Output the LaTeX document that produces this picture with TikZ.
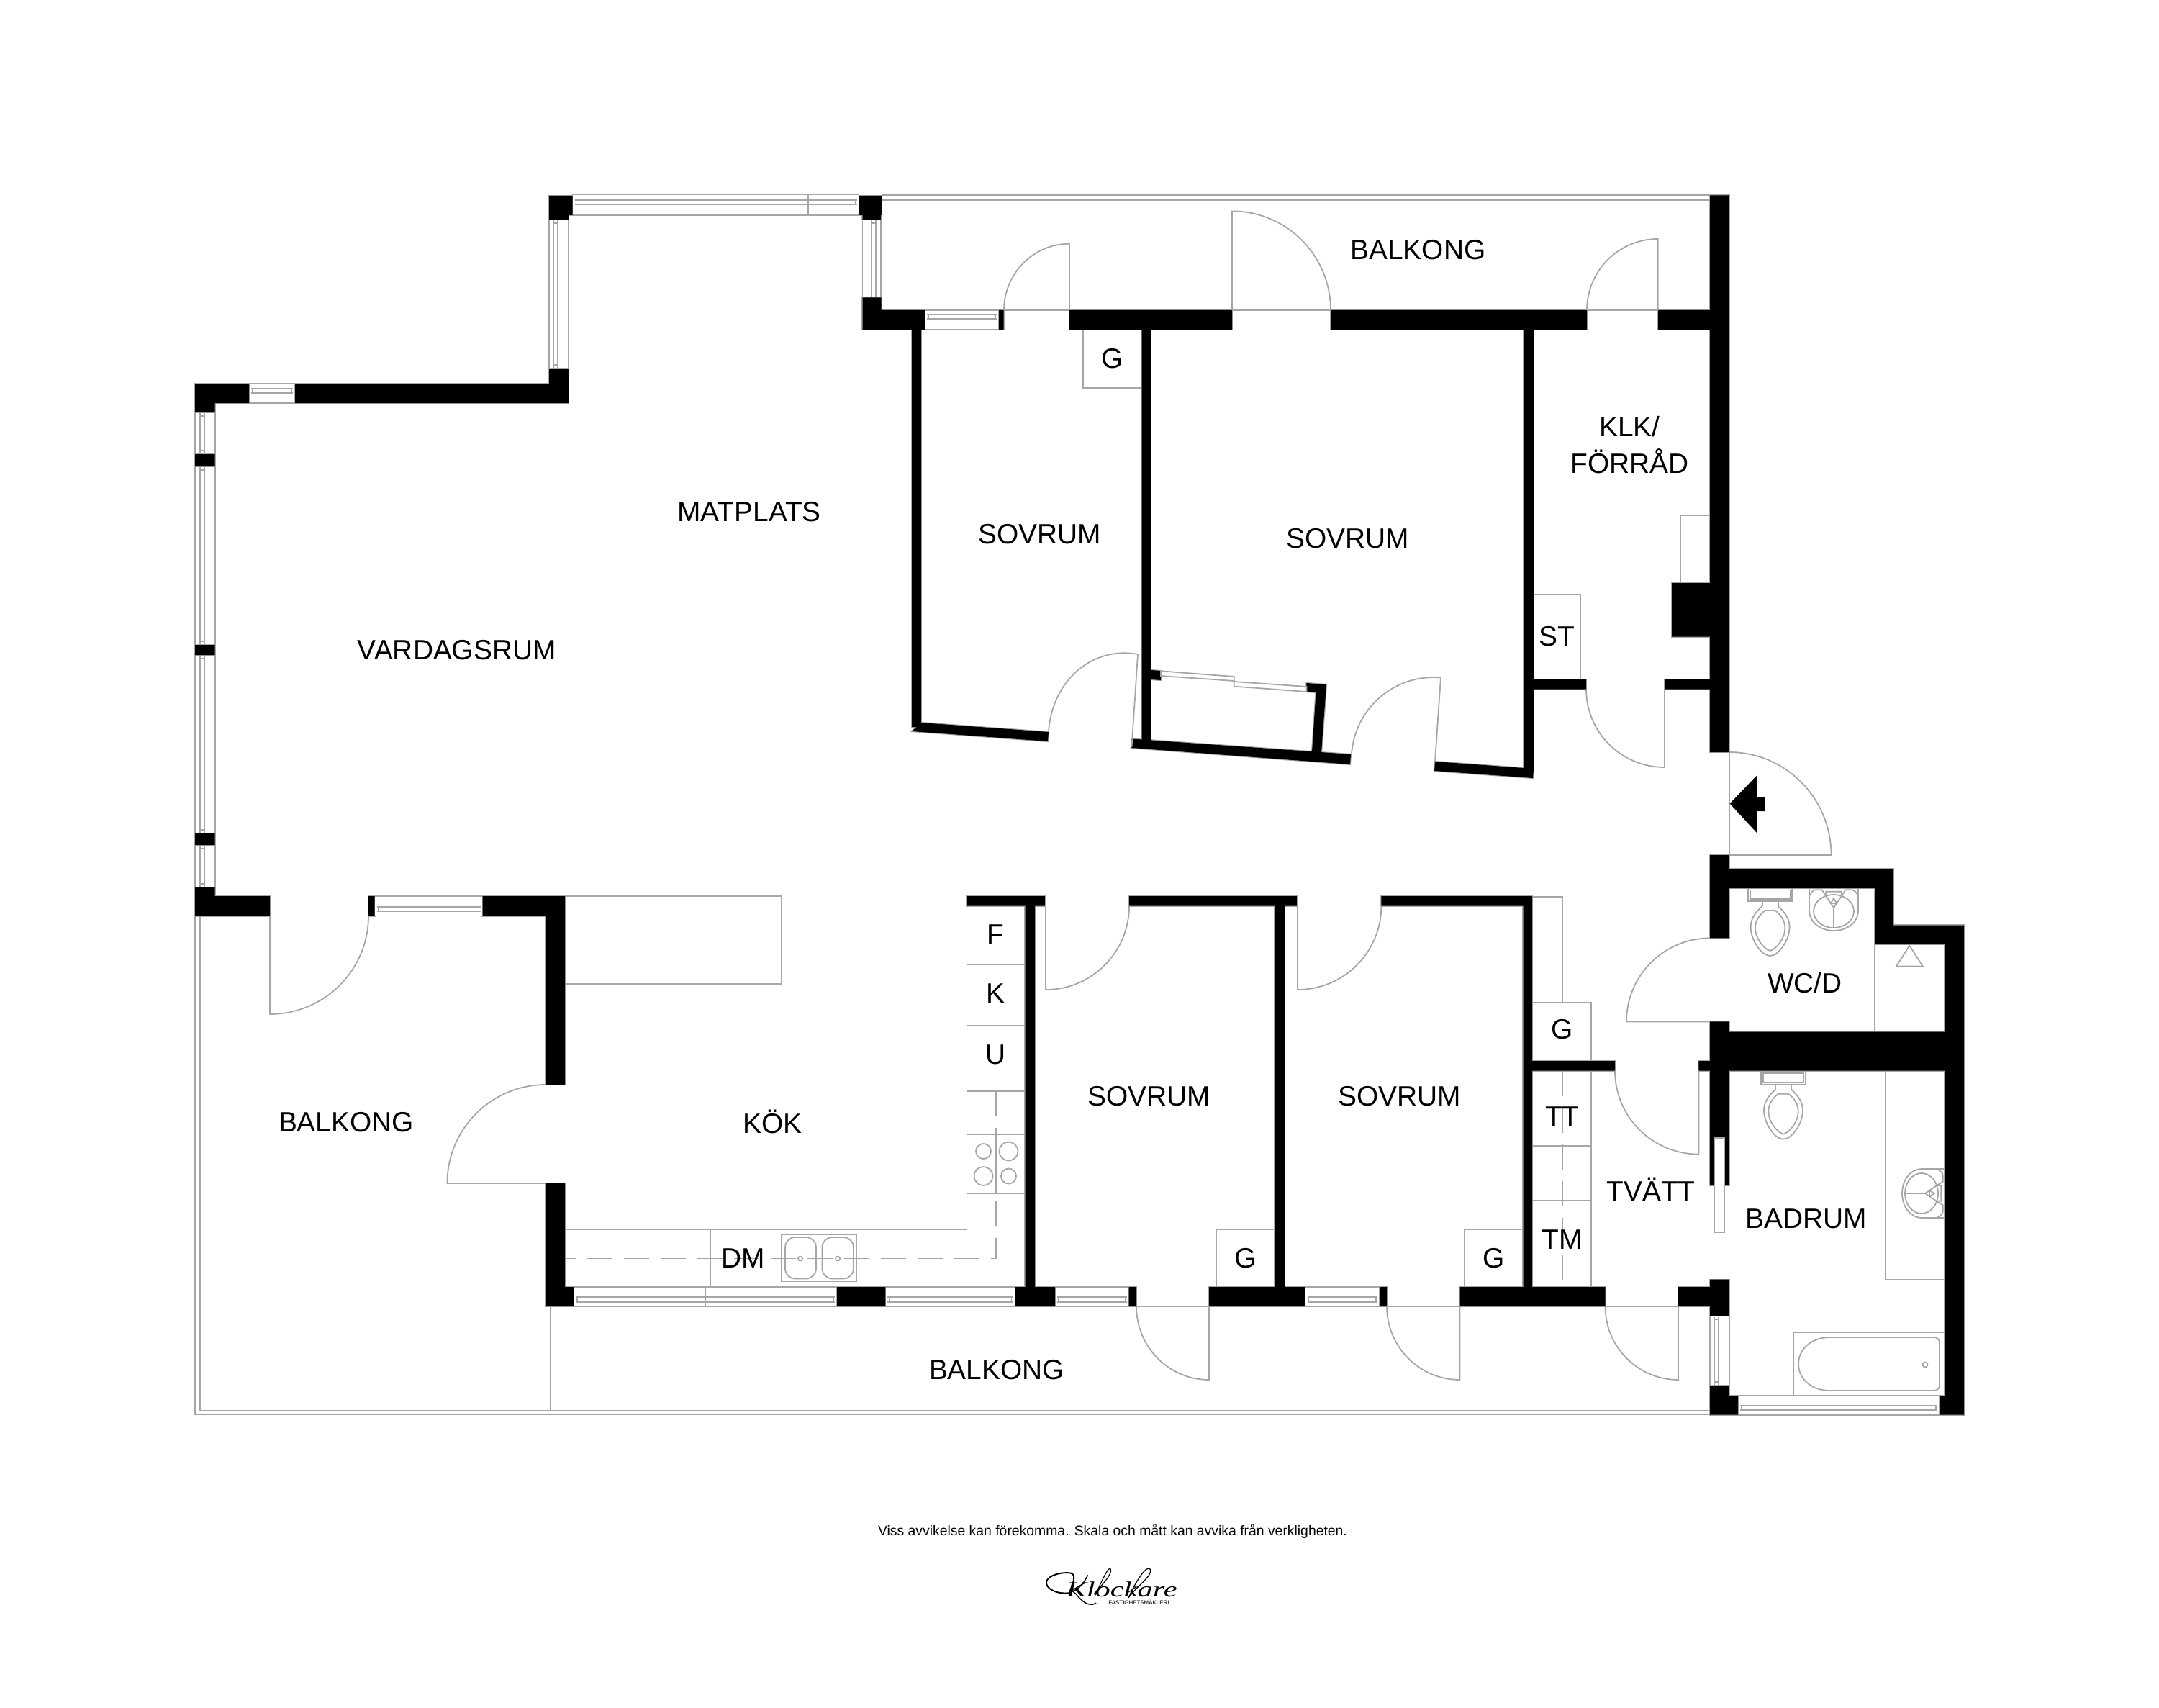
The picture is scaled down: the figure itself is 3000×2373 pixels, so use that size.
\documentclass[tikz,border=0pt]{standalone}
\usepackage{fontspec}
\setmainfont{Liberation Sans}
\newfontfamily\lmital{Liberation Serif}
\definecolor{lin}{HTML}{A6A6A6}
\tikzset{
  lin/.style={draw=lin,line width=0.5pt},
  wallfill/.style={fill=black,draw=none},
  wallline/.style={draw=lin,line width=0.6pt},
  lab/.style={font=\fontsize{11.05}{14.25}\selectfont,inner sep=0pt,text height=7.9pt,text depth=0pt,yshift=0.4pt},
  dashline/.style={draw=lin,line width=0.5pt,dash pattern=on 9.96pt off 4.55pt}
}
\newcommand\wallrects{
 (763,272) rectangle (795.5,299) (763,299) rectangle (790,305)
 (1193.5,272) rectangle (1225,299) (1198.5,299) rectangle (1224,305)
 (1198.5,413.5) rectangle (1224.5,431) (1198.5,431) rectangle (1285,458)
 (1388,431) rectangle (1394.5,458) (1486,431) rectangle (1712,458)
 (1849,431) rectangle (2205,458) (2304,431) rectangle (2402.6,458)
 (2376,271.5) rectangle (2402.6,1045) (2323,810) rectangle (2376,884.5)
 (2117,458) rectangle (2131,1068) (2117,944) rectangle (2204,957.5) (2313,944) rectangle (2376,957.5)
 (1267,458) rectangle (1280,1010) (1586.5,458) rectangle (1599,1030)
 (271,533) rectangle (346,560) (410,533) rectangle (790,560) (763,512) rectangle (790,533)
 (271,560) rectangle (298.7,573) (271,631) rectangle (298.7,648) (271,896) rectangle (298.7,910)
 (271,1158) rectangle (298.7,1174) (271,1233) rectangle (298.7,1245)
 (271,1245) rectangle (375,1272.5) (512,1245) rectangle (520.6,1272.5) (670.5,1245) rectangle (785,1272.5)
 (758.5,1272.5) rectangle (785,1507) (758.5,1644) rectangle (785,1788) (758.5,1788) rectangle (797,1815)
 (1163,1788) rectangle (1230.4,1815) (1410.5,1788) rectangle (1466,1815) (1568.6,1788) rectangle (1579,1815)
 (1680,1788) rectangle (1813.5,1815) (1917,1788) rectangle (1927,1815) (2028.5,1788) rectangle (2230.5,1815)
 (2332,1788) rectangle (2376,1815) (2376,1777.6) rectangle (2402.6,1828.6)
 (1424.5,1258.7) rectangle (1438,1788) (1771.4,1258.7) rectangle (1785,1788) (2116.5,1258.7) rectangle (2129,1788)
 (1343.5,1245) rectangle (1453,1258.7) (1569,1245) rectangle (1803,1258.7) (1919.4,1245) rectangle (2129,1258.7)
 (2116.6,1474) rectangle (2244,1487.7) (2360.4,1474) rectangle (2376,1487.7)
 (2376,1188) rectangle (2402.6,1303.4) (2402.6,1207) rectangle (2631,1234) (2605,1234) rectangle (2631,1285.5)
 (2605,1285.5) rectangle (2729,1312) (2702.4,1312) rectangle (2729,1965.7)
 (2376,1419.4) rectangle (2402.6,1433.5) (2376,1433.5) rectangle (2729,1487.7)
 (2376,1487.7) rectangle (2402.6,1581) (2376,1581) rectangle (2382.4,1647) (2395.7,1581) rectangle (2402.6,1647)
 (2376,1925) rectangle (2402.6,1939) (2376,1939) rectangle (2415,1965.7) (2695,1939) rectangle (2729,1965.7)
}
\newcommand\tiltwalls{
 (1267,1016) -- (1280,1004) -- (1457,1017) -- (1456,1030) -- cycle
 (1572.5,1026.5) -- (1877,1048) -- (1876,1062) -- (1572,1039) -- cycle
 (1994,1058) -- (2117,1067) -- (2131,1068) -- (2130,1081) -- (1993,1071) -- cycle
 (1599,931) -- (1613,932) -- (1613,945) -- (1599,944) -- cycle
 (1815.4,949) -- (1843,951) -- (1836,1046) -- (1823,1045) -- (1828.5,962) -- (1815.4,961) -- cycle
}
% door: hinge, leaf end, arc end
\newcommand\door[6]{%
 \pgfmathsetmacro\pax{#3+.5523*(#5-#1)}\pgfmathsetmacro\pay{#4+.5523*(#6-#2)}%
 \pgfmathsetmacro\pbx{#5+.5523*(#3-#1)}\pgfmathsetmacro\pby{#6+.5523*(#4-#2)}%
 \draw[lin] (#1,#2) -- (#3,#4) .. controls (\pax,\pay) and (\pbx,\pby) .. (#5,#6);}
\newcommand\hwin[6]{%
 \draw[lin,fill=white] (#1,#3) rectangle (#2,#4);
 \draw[lin] (#1+3,#5) -- (#2-3,#5) (#1+3,#6) -- (#2-3,#6) (#1+5,#5) -- (#1+5,#6) (#2-5,#5) -- (#2-5,#6);}
\newcommand\vwin[6]{%
 \draw[lin,fill=white] (#1,#3) rectangle (#2,#4);
 \draw[lin] (#5,#3+1) -- (#5,#4-1) (#6,#3+1) -- (#6,#4-1) (#5,#3+5) -- (#6,#3+5) (#5,#4-5) -- (#6,#4-5);}
\newcommand\toilet[2]{%
 \begin{scope}[shift={(#1,#2)}]
 \draw[lin] (-30.7,0) rectangle (30.7,18) (-28,2.5) rectangle (28,15);
 \draw[lin] (-11,18) -- (-11,25) (11,18) -- (11,25);
 \draw[lin] (-11,25) .. controls (-20,33) and (-27,42) .. (-27,54) .. controls (-27,72) and (-12,94) .. (0,94)
   .. controls (12,94) and (27,72) .. (27,54) .. controls (27,42) and (20,33) .. (11,25);
 \draw[lin] (-7,31) -- (7,31) .. controls (15,37) and (20.7,45) .. (20.7,56) .. controls (20.7,70) and (8,85) .. (0,87)
   .. controls (-8,85) and (-20.7,70) .. (-20.7,56) .. controls (-20.7,45) and (-15,37) .. (-7,31);
 \end{scope}}
\newcommand\sinkbody{%
 \draw[lin] (-34,0) -- (-34,31) .. controls (-34,48) and (-18,59) .. (0,59) .. controls (18,59) and (34,48) .. (34,31) -- (34,0);
 \draw[lin] (-34,10.7) .. controls (-31,5) and (-28,2.3) .. (-24.7,2.3) -- (-16.3,2.3) -- (-10.7,11.3);
 \draw[lin] (34,10.7) .. controls (31,5) and (28,2.3) .. (24.7,2.3) -- (16.3,2.3) -- (10.7,11.3);
 \draw[lin] (-10.7,11.3) -- (-10.7,4.7) -- (10.7,4.7) -- (10.7,11.3) -- (0,27) -- cycle;
 \draw[lin] (0,14) -- (-4,21) -- (4,21) -- cycle (0,27) -- (0,55);
 \draw[lin] (0,32) ellipse [x radius=28, y radius=23];}
\begin{document}
\begin{tikzpicture}[x=0.01cm,y=-0.01cm]
\useasboundingbox[fill=white] (0,0) rectangle (3000,2373);
% balcony outlines
\draw[lin] (1225,271) -- (2376,271) (1225,278) -- (2376,278);
\draw[lin] (271,1272.5) -- (271,1965) -- (2376,1965) (278,1272.5) -- (278,1959.5) -- (2376,1959.5);
\draw[lin] (758.5,1644) -- (758.5,1959.5) (765,1815) -- (765,1959.5);
% kitchen fittings
\draw[lin] (785,1245) rectangle (1086,1367);
\draw[lin] (785,1707.7) -- (1343.5,1707.7) -- (1343.5,1258.7);
\draw[lin] (785,1788) -- (1424.5,1788);
\draw[lin] (987.5,1707.7) -- (987.5,1788) (1071.6,1707.7) -- (1071.6,1788);
\draw[lin] (1343.5,1340) -- (1424.5,1340) (1343.5,1424.5) -- (1424.5,1424.5) (1343.5,1516) -- (1424.5,1516)
  (1343.5,1576) -- (1424.5,1576) (1343.5,1657.7) -- (1424.5,1657.7);
\path[dashline] (1384,1516) -- (1384,1748.5) -- (785,1748.5);
\draw[lin] (1384,1576) -- (1384,1657.7);
\draw[lin] (1366.5,1599.5) circle (10.5) (1401.5,1599.5) circle (13) (1366.5,1634) circle (13) (1401.5,1634) circle (10.5);
\draw[lin] (1086,1715) rectangle (1190,1780.6);
\draw[lin,rounded corners=4pt] (1091,1719) rectangle (1134,1776.5) (1142.4,1719) rectangle (1186,1776.5);
\draw[lin] (1112,1748.5) circle (3) (1164,1748.5) circle (3);
% storage boxes
\draw[lin] (1505,458) rectangle (1586.5,539);
\draw[lin] (1690,1707.7) -- (1690,1788) (1690,1707.7) -- (1771.4,1707.7);
\draw[lin] (2035,1707.7) -- (2035,1788) (2035,1707.7) -- (2116.5,1707.7);
\draw[lin] (2131,825.5) rectangle (2196.4,944);
\draw[lin] (2335,810) -- (2335,716) -- (2376,716);
\draw[lin] (2129,1246) -- (2170.8,1246) -- (2170.8,1393);
\draw[lin] (2129,1393) rectangle (2211,1474);
\draw[lin] (2211,1487.7) -- (2211,1788) (2129,1591.7) -- (2211,1591.7) (2129,1667.6) -- (2211,1667.6);
\path[dashline] (2170.8,1488) -- (2170.8,1788);
% bathroom fittings
\draw[lin] (2604.6,1312) -- (2604.6,1433.5);
\draw[lin] (2653.3,1313.7) -- (2635,1342.4) -- (2671.7,1342.4) -- cycle;
\draw[lin] (2620,1487.7) -- (2620,1777.6) -- (2702.4,1777.6);
\draw[lin] (2492,1939) -- (2492,1851.4) -- (2702.4,1851.4);
\draw[lin] (2702,1939) -- (2415,1939);
\draw[lin] (2543,1858) -- (2687,1858) .. controls (2692,1858) and (2695,1861) .. (2695,1866) -- (2695,1924)
  .. controls (2695,1929) and (2692,1932) .. (2687,1932) -- (2543,1932)
  .. controls (2516,1932) and (2499,1915) .. (2499,1895) .. controls (2499,1875) and (2516,1858) .. (2543,1858);
\draw[lin] (2675,1896) circle (3.5);
\toilet{2459.6}{1234}
\toilet{2478}{1488.7}
\begin{scope}[shift={(2548,1234)}]\sinkbody\end{scope}
\begin{scope}[shift={(2702,1658)},x={(0,-0.01cm)},y={(-0.01cm,0)}]\sinkbody\end{scope}
% walls: outline first, black on top
\draw[wallline] \wallrects;
\draw[wallline] \tiltwalls;
% windows
\hwin{795.5}{1193.5}{270.6}{298.7}{278}{284.4}
\draw[lin] (1123,270.6) -- (1123,298.7);
\hwin{346}{410}{533}{560}{539.5}{546}
\hwin{1285}{1388}{431}{458}{436.5}{443}
\hwin{520.6}{670.5}{1245}{1272.5}{1260}{1266}
\hwin{797}{1163}{1788}{1815}{1802}{1809}
\draw[lin] (980,1788) -- (980,1815);
\hwin{1230.4}{1410.5}{1788}{1815}{1802}{1809}
\hwin{1466}{1568.6}{1788}{1815}{1802}{1809}
\hwin{1813.5}{1917}{1788}{1815}{1802}{1809}
\hwin{2415}{2695}{1939}{1965.7}{1953}{1959}
\vwin{763}{790}{305}{512}{769}{775}
\vwin{1198.5}{1224}{305}{413.5}{1211}{1217}
\vwin{271}{298.7}{573}{631}{278}{284.6}
\vwin{271}{298.7}{648}{896}{278}{284.6}
\vwin{271}{298.7}{910}{1158}{278}{284.6}
\vwin{271}{298.7}{1174}{1232.7}{278}{284.6}
\vwin{2376}{2402.6}{1828.6}{1925}{2382}{2388}
% black walls
\fill[wallfill] \wallrects;
\fill[wallfill] (1267,1016) -- (1280,1004) -- (1457,1017) -- (1456,1030) -- cycle;
\fill[wallfill] (1572.5,1026.5) -- (1877,1048) -- (1876,1062) -- (1572,1039) -- cycle;
\fill[wallfill] (1994,1058) -- (2117,1067) -- (2131,1068) -- (2130,1081) -- (1993,1071) -- cycle;
\fill[wallfill] (1599,931) -- (1613,932) -- (1613,945) -- (1599,944) -- cycle;
\fill[wallfill] (1815.4,949) -- (1843,951) -- (1836,1046) -- (1823,1045) -- (1828.5,962) -- (1815.4,961) -- cycle;
% sliding door and panel
\draw[lin,fill=white] (1613,932.3) -- (1714.7,940) -- (1714.7,946) -- (1613,939) -- cycle;
\draw[lin,fill=white] (1714.7,947) -- (1815.4,954) -- (1815.4,961) -- (1714.7,953.6) -- cycle;
\draw[lin,fill=white] (2382.4,1581) rectangle (2395.7,1712.6);
% doors
\door{1486}{431}{1486}{338.7}{1395}{431}
\door{1712}{431}{1712}{293.4}{1849}{431}
\door{2303.6}{431}{2303.6}{332}{2205}{431}
\draw[lin] (1395,431) -- (1486,431) (1712,431) -- (1849,431) (2205,431) -- (2304,431);
\door{1572.5}{1038}{1581}{909}{1457}{1017}
\door{1994}{1058}{2002}{941.5}{1878}{1048}
\door{2313}{957.5}{2313}{1066}{2204}{957.5}
\door{2402.6}{1188}{2544.5}{1188}{2402.6}{1045}
\draw[lin] (2402.6,1045) -- (2402.6,1188);
\door{375}{1272.5}{375}{1409}{512}{1272.5}
\draw[lin] (375,1272.5) -- (512,1272.5);
\door{758.5}{1644}{621.4}{1644}{758.5}{1507}
\draw[lin] (758.5,1507) -- (758.5,1644);
\door{1453}{1258.7}{1453}{1375}{1569}{1258.7}
\draw[lin] (1453,1245) -- (1453,1258.7);
\door{1803}{1258.7}{1803}{1375}{1919.4}{1258.7}
\draw[lin] (1803,1245) -- (1803,1258.7);
\door{1680}{1815}{1680}{1917}{1579}{1815}
\door{2028.5}{1815}{2028.5}{1917}{1927}{1815}
\door{2332}{1815}{2332}{1917}{2230.5}{1815}
\draw[lin] (1579,1815) -- (1680,1815) (1927,1815) -- (2028.5,1815) (2230.5,1815) -- (2332,1815);
\door{2360.4}{1487.7}{2360.4}{1603.6}{2244}{1487.7}
\door{2376}{1419.4}{2260}{1419.4}{2376}{1303.4}
% entrance arrow
\fill[black] (2403.6,1116.5) -- (2441,1077.5) -- (2441,1107) -- (2452.5,1107) -- (2452.5,1127) -- (2441,1127) -- (2441,1157) -- cycle;
% labels
\node[lab] (matplats) at (1041,712) {MATPLATS};
\node[lab] (vardagsrum) at (634.8,904) {VARDAGSRUM};
\node[lab] (sovrum1) at (1445,743.5) {SOVRUM};
\node[lab] (sovrum2) at (1873,749) {SOVRUM};
\node[lab] (balkong1) at (1970.4,348) {BALKONG};
\node[lab] (g1) at (1545.7,499.5) {G};
\node[lab] (st) at (2163,885) {ST};
\node[font=\fontsize{11.05}{14.25}\selectfont,inner sep=0pt,align=center,yshift=0.4pt] (klk) at (2264.5,619.5) {KLK/\\FÖRRÅD};
\node[lab] (balkong2) at (481,1560) {BALKONG};
\node[lab] (kok) at (1073.5,1562) {KÖK};
\node[lab] (dm) at (1033,1748.5) {DM};
\node[lab] (f) at (1383.7,1299.5) {F};
\node[lab] (k) at (1383.7,1381) {K};
\node[lab] (u) at (1383.7,1466) {U};
\node[lab] (sovrum3) at (1597,1524.5) {SOVRUM};
\node[lab] (sovrum4) at (1945,1524.5) {SOVRUM};
\node[lab] (g2) at (1731,1748.5) {G};
\node[lab] (g3) at (2076,1748.5) {G};
\node[lab] (g4) at (2170.8,1431) {G};
\node[lab] (tt) at (2170.8,1551.6) {TT};
\node[lab] (tm) at (2170.8,1723) {TM};
\node[lab] (tvatt) at (2294,1656) {TVÄTT};
\node[lab] (badrum) at (2510,1693.6) {BADRUM};
\node[lab] (wcd) at (2508,1367) {WC/D};
\node[lab] (balkong3) at (1385,1904) {BALKONG};
% footer
\node[inner sep=0pt,font=\fontsize{5.51}{6.5}\selectfont] (note) at (1546,2128) {Viss avvikelse kan förekomma. Skala och mått kan avvika från verkligheten.};
% logo
\begin{scope}[shift={(1440,2170)},x=0.00333cm,y=-0.00333cm]
\node[inner sep=0pt,anchor=base west,transform shape,xscale=1.42,font=\lmital\itshape\fontsize{8.5}{10}\selectfont] (logo) at (122,145) {Klockare};
\draw[line width=0.55pt] (135,130) .. controls (80,135) and (40,110) .. (42,85) .. controls (45,55) and (110,40) .. (145,47) .. controls (170,55) and (150,100) .. (135,135);
\draw[line width=0.4pt] (215,55) .. controls (200,90) and (170,120) .. (150,122) .. controls (175,135) and (190,180) .. (235,178) -- (250,172);
\draw[line width=0.35pt] (240,135) .. controls (270,100) and (320,50) .. (310,30) .. controls (300,15) and (270,90) .. (245,140);
\draw[line width=0.35pt] (385,150) .. controls (420,100) and (490,55) .. (475,30) .. controls (460,10) and (410,90) .. (385,150);
\node[inner sep=0pt,font=\fontsize{2.25}{3}\selectfont] (makleri) at (428,168) {FASTIGHETSMÄKLERI};
\end{scope}
\end{tikzpicture}
\end{document}
